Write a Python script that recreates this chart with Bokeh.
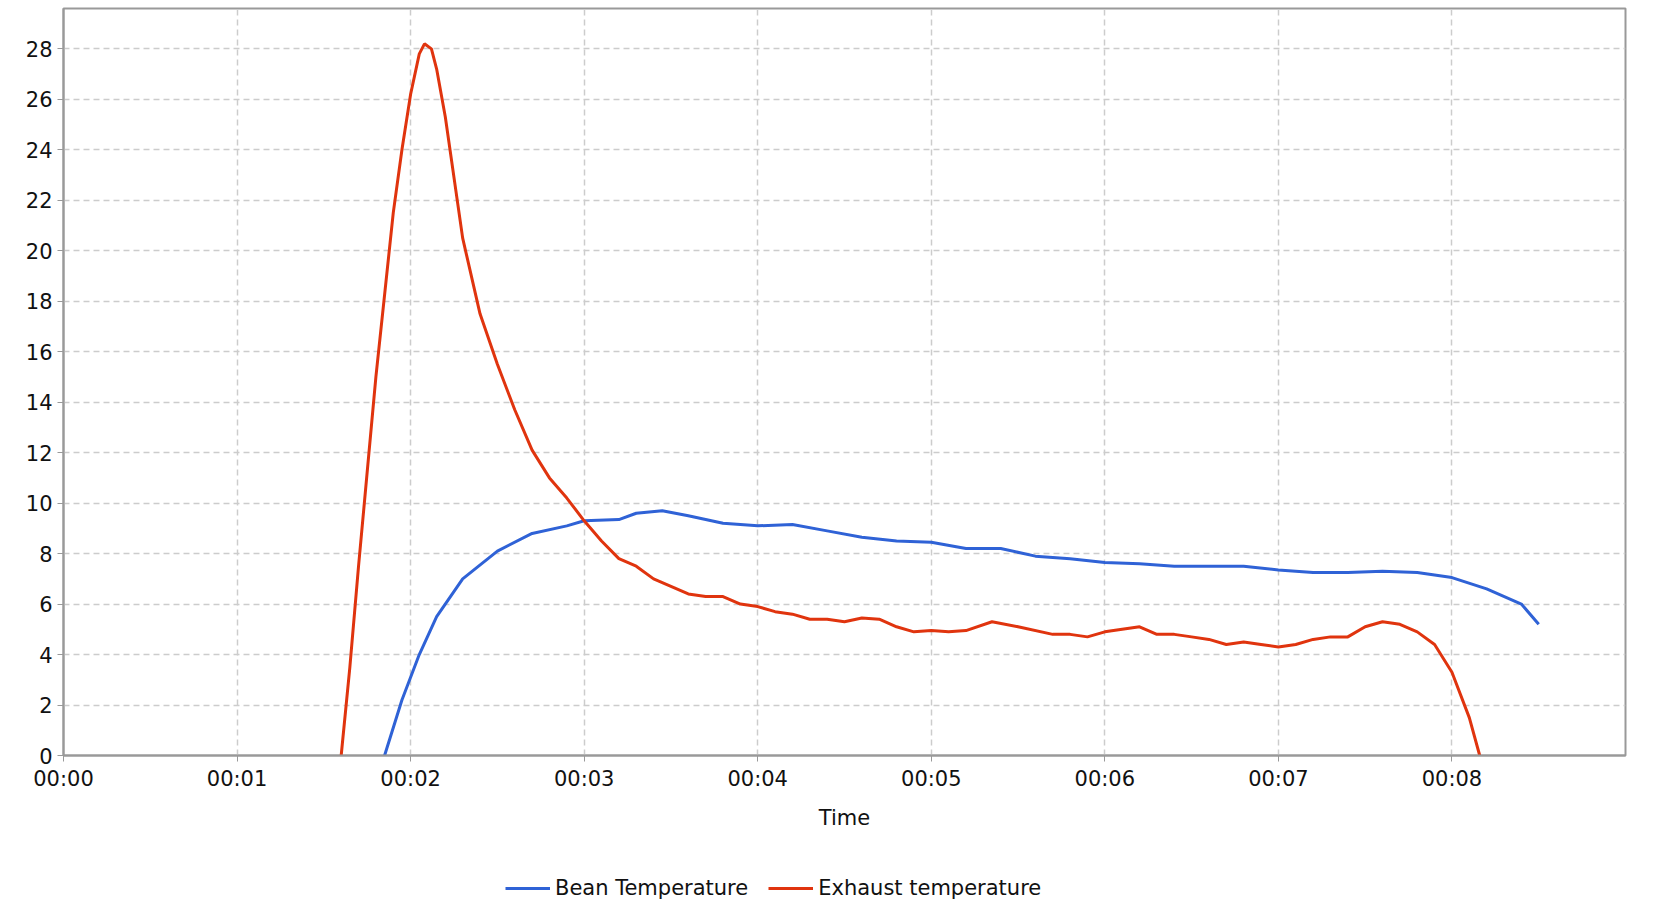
from bokeh.plotting import figure
from bokeh.layouts import column
from bokeh.models import Legend, FixedTicker, Range1d
from bokeh.embed import file_html
from bokeh.resources import INLINE

bean_t = [1.85,1.95,2.05,2.15,2.3,2.5,2.7,2.9,3.0,3.2,3.3,3.45,3.6,3.8,4.0,4.2,4.4,4.6,4.8,5.0,5.2,5.4,5.6,5.8,6.0,6.2,6.4,6.6,6.8,7.0,7.2,7.4,7.6,7.8,8.0,8.2,8.4,8.5]
bean_v = [0,2.2,4.0,5.5,7.0,8.1,8.8,9.1,9.3,9.35,9.6,9.7,9.5,9.2,9.1,9.15,8.9,8.65,8.5,8.45,8.2,8.2,7.9,7.8,7.65,7.6,7.5,7.5,7.5,7.35,7.25,7.25,7.3,7.25,7.05,6.6,6.0,5.2]
exh_t = [1.6,1.65,1.7,1.8,1.9,1.95,2.0,2.05,2.08,2.12,2.15,2.2,2.3,2.4,2.5,2.6,2.7,2.8,2.9,3.0,3.1,3.2,3.3,3.4,3.5,3.6,3.7,3.8,3.9,4.0,4.1,4.2,4.3,4.4,4.5,4.6,4.7,4.8,4.9,5.0,5.1,5.2,5.35,5.5,5.7,5.8,5.9,6.0,6.1,6.2,6.3,6.4,6.5,6.6,6.7,6.8,6.9,7.0,7.1,7.2,7.3,7.4,7.5,7.6,7.7,7.8,7.9,8.0,8.1,8.16]
exh_v = [0,3.5,7.5,15,21.5,24,26.2,27.8,28.2,28.0,27.2,25.3,20.5,17.5,15.5,13.7,12.1,11,10.2,9.3,8.5,7.8,7.5,7.0,6.7,6.4,6.3,6.3,6.0,5.9,5.7,5.6,5.4,5.4,5.3,5.45,5.4,5.1,4.9,4.95,4.9,4.95,5.3,5.1,4.8,4.8,4.7,4.9,5.0,5.1,4.8,4.8,4.7,4.6,4.4,4.5,4.4,4.3,4.4,4.6,4.7,4.7,5.1,5.3,5.2,4.9,4.4,3.3,1.5,0]
x_ticks = [0,1,2,3,4,5,6,7,8]
x_labels = ["00:00","00:01","00:02","00:03","00:04","00:05","00:06","00:07","00:08"]
y_ticks = list(range(0,29,2))
series_names = ["Bean Temperature", "Exhaust temperature"]
colors = ["#2f62d6", "#e0340e"]

FONT = "DejaVu Sans"
p = figure(width=1662, height=832, output_backend="svg", toolbar_location=None,
           x_range=Range1d(0,9.0), y_range=Range1d(0,29.6),
           min_border_left=63, min_border_right=37, min_border_top=8, min_border_bottom=70)
p.outline_line_color = "#999999"
p.outline_line_width = 2
for g in (p.xgrid[0], p.ygrid[0]):
    g.grid_line_color = "#cccccc"
    g.grid_line_dash = "6 4"
    g.grid_line_width = 1.5
p.xaxis.ticker = FixedTicker(ticks=x_ticks)
p.xaxis.major_label_overrides = {t: l for t, l in zip(x_ticks, x_labels)}
p.yaxis.ticker = FixedTicker(ticks=y_ticks)
for ax in (p.xaxis[0], p.yaxis[0]):
    ax.major_label_text_font = FONT
    ax.major_label_text_font_size = "21px"
    ax.major_label_text_color = "#111111"
    ax.axis_line_color = "#999999"
    ax.axis_line_width = 2
    ax.major_tick_line_color = "#999999"
    ax.minor_tick_line_color = None
    ax.major_tick_out = 6
    ax.major_tick_in = 0
p.xaxis.axis_label = "Time"
p.xaxis.axis_label_text_font = FONT
p.xaxis.axis_label_text_font_style = "normal"
p.xaxis.axis_label_text_font_size = "21px"
p.xaxis.axis_label_text_color = "#111111"
p.xaxis.axis_label_standoff = 12

p.line(bean_t, bean_v, line_color=colors[0], line_width=3)
p.line(exh_t, exh_v, line_color=colors[1], line_width=3)

p2 = figure(width=1662, height=72, output_backend="svg", toolbar_location=None,
            x_axis_type=None, y_axis_type=None, min_border=0,
            x_range=Range1d(0, 1), y_range=Range1d(0, 1))
p2.outline_line_color = None
p2.xgrid.visible = False
p2.ygrid.visible = False
# legend-only renderers, placed outside the visible range
lr = [p2.line([5, 6], [5, 5], line_color=c, line_width=3) for c in colors]
leg = Legend(items=[(n, [r]) for n, r in zip(series_names, lr)],
             orientation="horizontal", location=(442, 4), border_line_color=None,
             background_fill_alpha=0, label_text_color="#111111",
             label_text_font=FONT, label_text_font_size="21px", glyph_width=45,
             spacing=20, margin=0, padding=6)
p2.add_layout(leg, "center")

open("out.html", "w").write(file_html(column(p, p2, spacing=0), INLINE))
